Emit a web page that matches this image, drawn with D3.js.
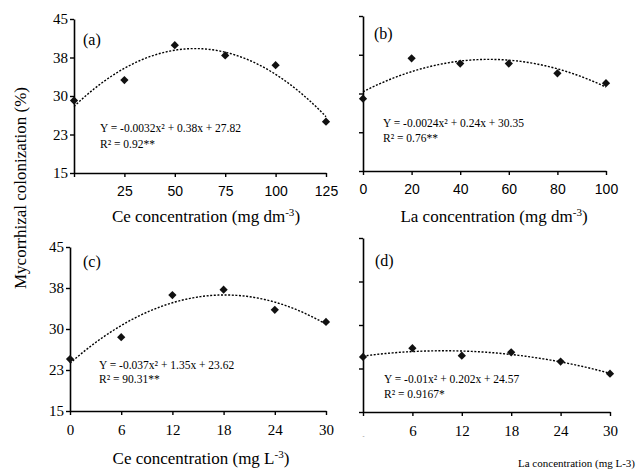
<!DOCTYPE html>
<html>
<head>
<meta charset="utf-8">
<script src="https://cdn.jsdelivr.net/npm/d3@7"></script>
<style>
  body { margin: 0; background: #fff; }
  svg { display: block; }
</style>
</head>
<body>
<div id="chart"></div>
<script>
// values
const ceSoilDose = [0, 25, 50, 75, 100, 125];
const ceSoilColon = [29.1, 33.1, 39.9, 37.9, 36.0, 25.0];
const laSoilDose = [0, 20, 40, 60, 80, 100];
const laSoilColon = [29.0, 36.8, 35.8, 35.8, 33.9, 32.0];
const ceSolDose = [0, 6, 12, 18, 24, 30];
const ceSolColon = [24.5, 28.5, 36.2, 37.2, 33.5, 31.3];
const laSolDose = [0, 6, 12, 18, 24, 30];
const laSolColon = [24.5, 26.0, 24.7, 25.3, 23.7, 21.6];

const yTicks = [15, 22.5, 30, 37.5, 45];
const yTickLabels = ["15", "23", "30", "38", "45"];
const ceSoilTicks = [0, 25, 50, 75, 100, 125];
const ceSoilTickLabels = ["", "25", "50", "75", "100", "125"];
const laSoilTicks = [0, 20, 40, 60, 80, 100];
const solTicks = [0, 6, 12, 18, 24, 30];

const equations = [
  ["Y = -0.0032x\u00b2 + 0.38x + 27.82", "R\u00b2 = 0.92**"],
  ["Y = -0.0024x\u00b2 + 0.24x + 30.35", "R\u00b2 = 0.76**"],
  ["Y = -0.037x\u00b2 + 1.35x + 23.62", "R\u00b2 = 90.31**"],
  ["Y = -0.01x\u00b2 + 0.202x + 24.57", "R\u00b2 = 0.9167*"]
];

const W = 636, H = 473;
const serif = "'Liberation Serif', 'Times New Roman', serif";
const sans = "'Liberation Sans', Arial, sans-serif";

const svg = d3.select("#chart").append("svg")
  .attr("width", W)
  .attr("height", H);

// least squares quadratic, like the spreadsheet trendline
function quadFit(xs, ys) {
  let s = [0, 0, 0, 0, 0], t = [0, 0, 0];
  xs.forEach((x, i) => {
    for (let k = 0; k < 5; k++) s[k] += Math.pow(x, k);
    for (let k = 0; k < 3; k++) t[k] += ys[i] * Math.pow(x, k);
  });
  const M = [
    [s[0], s[1], s[2], t[0]],
    [s[1], s[2], s[3], t[1]],
    [s[2], s[3], s[4], t[2]]
  ];
  for (let c = 0; c < 3; c++) {
    for (let r = c + 1; r < 3; r++) {
      const f = M[r][c] / M[c][c];
      for (let k = c; k < 4; k++) M[r][k] -= f * M[c][k];
    }
  }
  const b = [0, 0, 0];
  for (let r = 2; r >= 0; r--) {
    let v = M[r][3];
    for (let k = r + 1; k < 3; k++) v -= M[r][k] * b[k];
    b[r] = v / M[r][r];
  }
  return x => b[0] + b[1] * x + b[2] * x * x;
}

const panels = [
  { key: "(a)", dose: ceSoilDose, colon: ceSoilColon, xTicks: ceSoilTicks, xLabels: ceSoilTickLabels,
    xFont: sans, yLabels: true, left: 74, right: 326, top: 19, bottom: 173,
    tag: [83, 45], eq: equations[0], eqPos: [100, 132, 148] },
  { key: "(b)", dose: laSoilDose, colon: laSoilColon, xTicks: laSoilTicks, xLabels: laSoilTicks.map(String),
    xFont: sans, yLabels: false, left: 363, right: 606, top: 16, bottom: 171,
    tag: [374, 39], eq: equations[1], eqPos: [383, 127, 142] },
  { key: "(c)", dose: ceSolDose, colon: ceSolColon, xTicks: solTicks, xLabels: solTicks.map(String),
    xFont: serif, yLabels: true, left: 70, right: 326, top: 247, bottom: 411,
    tag: [83, 267], eq: equations[2], eqPos: [99, 369, 383] },
  { key: "(d)", dose: laSolDose, colon: laSolColon, xTicks: solTicks, xLabels: ["-"].concat(solTicks.slice(1).map(String)),
    xFont: serif, yLabels: false, left: 363, right: 610, top: 238, bottom: 412,
    tag: [375, 266], eq: equations[3], eqPos: [384, 383, 398] }
];

panels.forEach(p => {
  const x = d3.scaleLinear().domain([p.xTicks[0], p.xTicks[p.xTicks.length - 1]]).range([p.left, p.right]);
  const y = d3.scaleLinear().domain([15, 45]).range([p.bottom, p.top]);
  const g = svg.append("g");

  // y axis
  const ya = g.append("g")
    .attr("transform", `translate(${p.left},0)`)
    .call(d3.axisLeft(y).tickValues(yTicks).tickSize(4).tickSizeOuter(0)
      .tickFormat((d, i) => p.yLabels ? yTickLabels[i] : ""));
  ya.select(".domain").attr("stroke-width", 1.6);
  ya.selectAll(".tick line").attr("stroke-width", 1.4);
  ya.selectAll("text")
    .attr("font-family", serif)
    .attr("font-size", 15)
    .attr("fill", "#000")
    .attr("x", -6);

  // x axis
  const xa = g.append("g")
    .attr("transform", `translate(0,${p.bottom})`)
    .call(d3.axisBottom(x).tickValues(p.xTicks).tickSize(4).tickSizeOuter(0)
      .tickFormat((d, i) => p.xLabels[i]));
  xa.select(".domain").attr("stroke-width", 1.6);
  xa.selectAll(".tick line").attr("stroke-width", 1.4);
  xa.selectAll("text")
    .attr("font-family", p.xFont)
    .attr("font-size", p.xFont === sans ? 14 : 15)
    .attr("fill", "#000")
    .attr("y", 13);
  if (p.key === "(d)") {
    xa.selectAll("text").filter((d, i) => i === 0)
      .attr("font-size", 6).attr("fill", "#777").attr("y", 22);
  }

  // trendline
  const f = quadFit(p.dose, p.colon);
  const xs = d3.range(0, 101).map(i => x.domain()[0] + (x.domain()[1] - x.domain()[0]) * i / 100);
  g.append("path")
    .datum(xs)
    .attr("fill", "none")
    .attr("stroke", "#000")
    .attr("stroke-width", 1.4)
    .attr("stroke-dasharray", "2,1.6")
    .attr("d", d3.line().x(d => x(d)).y(d => y(f(d))));

  // points
  g.selectAll(".pt")
    .data(p.dose.map((d, i) => [d, p.colon[i]]))
    .enter()
    .append("path")
    .attr("class", "pt")
    .attr("d", d3.symbol(d3.symbolSquare, 34))
    .attr("fill", "#111")
    .attr("transform", d => `translate(${x(d[0])},${y(d[1])}) rotate(45)`);

  // panel tag
  g.append("text")
    .attr("x", p.tag[0])
    .attr("y", p.tag[1])
    .attr("font-family", serif)
    .attr("font-size", 16)
    .text(p.key);

  // equation
  g.append("text")
    .attr("x", p.eqPos[0])
    .attr("y", p.eqPos[1])
    .attr("font-family", serif)
    .attr("font-size", 11.5)
    .text(p.eq[0]);
  g.append("text")
    .attr("x", p.eqPos[0])
    .attr("y", p.eqPos[2])
    .attr("font-family", serif)
    .attr("font-size", 11.5)
    .text(p.eq[1]);
});

// axis titles
function title(xp, yp, main, sup, size, anchor) {
  const t = svg.append("text")
    .attr("x", xp)
    .attr("y", yp)
    .attr("text-anchor", anchor)
    .attr("font-family", serif)
    .attr("font-size", size);
  t.append("tspan").text(main);
  if (sup) {
    t.append("tspan").attr("font-size", size * 0.65).attr("dy", -6).text(sup);
    t.append("tspan").attr("dy", 6).text(")");
  }
}
title(206, 222, "Ce concentration (mg dm", "-3", 17, "middle");
title(494, 222, "La concentration (mg dm", "-3", 17, "middle");
title(201, 464, "Ce concentration (mg L", "-3", 17, "middle");
title(635, 467, "La concentration (mg L-3)", null, 11, "end");

svg.append("text")
  .attr("transform", "translate(26,188) rotate(-90)")
  .attr("text-anchor", "middle")
  .attr("font-family", serif)
  .attr("font-size", 17)
  .text("Mycorrhizal colonization (%)");
</script>
</body>
</html>
